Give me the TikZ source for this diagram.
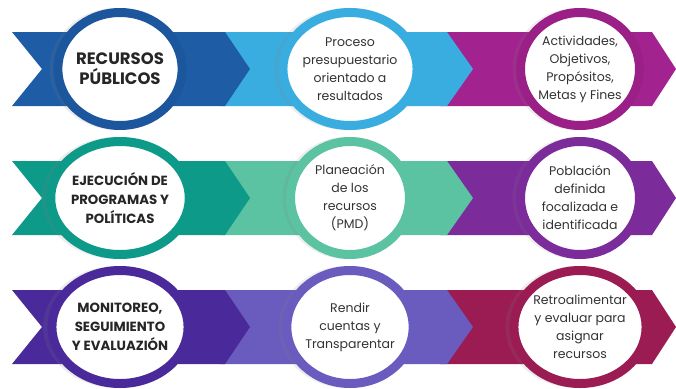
\documentclass[tikz,border=0pt]{standalone}
\usepackage{fontspec}
\setmainfont{Poppins}
\usetikzlibrary{
    shapes.geometric,
    shadows,
    positioning,
}
\definecolor{txtgray}{HTML}{333333}
% row 1
\definecolor{blueDark}{HTML}{1E5CA6}
\definecolor{blueLight}{HTML}{3AADE0}
\definecolor{magenta}{HTML}{A2228F}
% row 2
\definecolor{tealDark}{HTML}{0E9A89}
\definecolor{tealLight}{HTML}{5BC3A1}
\definecolor{violet}{HTML}{7C2B9B}
% row 3
\definecolor{indigo}{HTML}{4A2A9A}
\definecolor{lavender}{HTML}{6A5BBF}
\definecolor{crimson}{HTML}{9B1B53}

\begin{document}
\begin{tikzpicture}[x=1pt,y=-1pt]

    \tikzstyle{commonNode}=[ellipse, align=center, fill=white, line width=9pt, inner sep=0pt,
        minimum width=119pt, minimum height=113pt, text=txtgray,
        drop shadow={shadow xshift=-3pt, shadow yshift=0pt, shadow scale=1.08, opacity=0.15}]
    \tikzstyle{stage}=[commonNode, text=black!85, font=\bfseries\fontsize{13.3}{19}\selectfont]
    \tikzstyle{bigStage}=[stage, font=\bfseries\fontsize{16.5}{20}\selectfont]
    \tikzstyle{stepNode}=[commonNode, font=\fontsize{12.5}{18}\selectfont]

    \useasboundingbox (0,0) rectangle (676,388);

    % Spacing the nodes out
    \def \hspacing {230}
    \def \vspacing {129}
    \def \half {37}

    % Row 1
    \def \rowy {69}
    \fill[magenta] (440,\rowy-\half) -- (652,\rowy-\half) -- (676,\rowy) -- (652,\rowy+\half) -- (440,\rowy+\half) -- cycle;
    \fill[blueLight] (220,\rowy-\half) -- (447,\rowy-\half) -- (473,\rowy) -- (447,\rowy+\half) -- (220,\rowy+\half) -- cycle;
    \fill[blueDark] (12,\rowy-\half) -- (225,\rowy-\half) -- (250,\rowy) -- (225,\rowy+\half) -- (12,\rowy+\half) -- (42,\rowy) -- cycle;

    \node at (120, \rowy) [bigStage, draw=blueDark!95!black] (RP) {RECURSOS\\PÚBLICOS};
    \node at (120+\hspacing, \rowy) [stepNode, draw=blueLight] (PP) {Proceso\\presupuestario\\orientado a\\resultados};
    \node at (120+2*\hspacing, \rowy) [stepNode, draw=magenta!95!black] (AO) {Actividades,\\Objetivos,\\Propósitos,\\Metas y Fines};

    % Row 2
    \def \rowy {198}
    \fill[violet] (440,\rowy-\half) -- (652,\rowy-\half) -- (676,\rowy) -- (652,\rowy+\half) -- (440,\rowy+\half) -- cycle;
    \fill[tealLight] (220,\rowy-\half) -- (447,\rowy-\half) -- (473,\rowy) -- (447,\rowy+\half) -- (220,\rowy+\half) -- cycle;
    \fill[tealDark] (12,\rowy-\half) -- (225,\rowy-\half) -- (250,\rowy) -- (225,\rowy+\half) -- (12,\rowy+\half) -- (42,\rowy) -- cycle;

    \node at (120, \rowy) [stage, draw=tealDark] (EP) {EJECUCIÓN DE\\PROGRAMAS Y\\POLÍTICAS};
    \node at (120+\hspacing, \rowy) [stepNode, draw=tealLight] (PR) {Planeación\\de los\\recursos\\(PMD)};
    \node at (120+2*\hspacing, \rowy) [stepNode, draw=violet] (PD) {Población\\definida\\focalizada e\\identificada};

    % Row 3
    \def \rowy {327}
    \fill[crimson] (440,\rowy-\half) -- (652,\rowy-\half) -- (676,\rowy) -- (652,\rowy+\half) -- (440,\rowy+\half) -- cycle;
    \fill[lavender] (220,\rowy-\half) -- (447,\rowy-\half) -- (473,\rowy) -- (447,\rowy+\half) -- (220,\rowy+\half) -- cycle;
    \fill[indigo] (12,\rowy-\half) -- (225,\rowy-\half) -- (250,\rowy) -- (225,\rowy+\half) -- (12,\rowy+\half) -- (42,\rowy) -- cycle;

    \node at (120, \rowy) [stage, draw=indigo] (ME) {MONITOREO,\\SEGUIMIENTO\\Y EVALUAZIÓN};
    \node at (120+\hspacing, \rowy) [stepNode, draw=lavender] (RC) {Rendir\\cuentas y\\Transparentar};
    \node at (120+2*\hspacing, \rowy) [stepNode, draw=crimson] (RE) {Retroalimentar\\y evaluar para\\asignar\\recursos};

\end{tikzpicture}
\end{document}
